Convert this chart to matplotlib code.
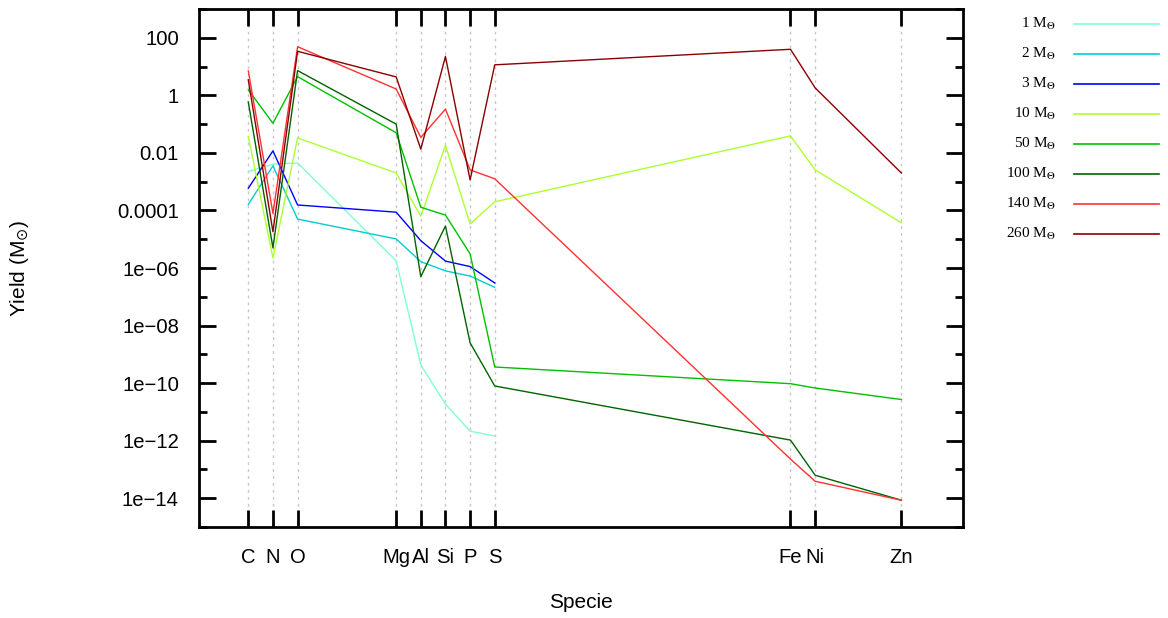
import matplotlib
matplotlib.use("Agg")
import matplotlib.pyplot as plt
from matplotlib.lines import Line2D
from matplotlib.ticker import FixedLocator, FixedFormatter
import numpy as np

# ---- data ----
species = ["C", "N", "O", "Mg", "Al", "Si", "P", "S", "Fe", "Ni", "Zn"]
species_x = [6, 7, 8, 12, 13, 14, 15, 16, 28, 29, 32.5]

masses = ["1", "2", "3", "10", "50", "100", "140", "260"]

# log10 yields (Msun)
log_m1 = [-2.65, -2.39, -2.35, -5.75, -9.37, -10.73, -11.67, -11.84]
log_m2 = [-3.79, -2.45, -4.30, -4.99, -5.78, -6.10, -6.28, -6.67]
log_m3 = [-3.23, -1.93, -3.81, -4.06, -5.05, -5.76, -5.95, -6.52]
log_m10 = [-1.43, -5.65, -1.48, -2.70, -4.20, -1.74, -4.47, -3.70, -1.41, -2.59, -4.43]
log_m50 = [0.19, -0.97, 0.65, -1.30, -3.89, -4.16, -5.51, -9.44, -10.02, -10.17, -10.57]
log_m100 = [-0.23, -5.30, 0.86, -1.00, -6.30, -4.54, -8.60, -10.10, -11.98, -13.20, -14.07]
log_m140 = [0.85, -4.10, 1.69, 0.22, -1.46, -0.48, -2.59, -2.90, -12.64, -13.41, -14.07]
log_m260 = [0.54, -4.74, 1.53, 0.64, -1.87, 1.35, -2.94, 1.06, 1.60, 0.26, -2.70]

series = [log_m1, log_m2, log_m3, log_m10, log_m50, log_m100, log_m140, log_m260]
colors = ["#7fffd4", "#00ced1", "#0000ff", "#adff2f", "#00c000", "#006400", "#ff3030", "#8b0000"]

ytick_vals = [1e2, 1e0, 1e-2, 1e-4, 1e-6, 1e-8, 1e-10, 1e-12, 1e-14]
ytick_labels = ["100", "1", "0.01", "0.0001", "1e\u221206", "1e\u221208", "1e\u221210", "1e\u221212", "1e\u221214"]
yminor_vals = [1e3, 1e1, 1e-1, 1e-3, 1e-5, 1e-7, 1e-9, 1e-11, 1e-13, 1e-15]

# ---- figure ----
W, H = 1168, 618
fig = plt.figure(figsize=(W / 100, H / 100), dpi=100)
ax = fig.add_axes([199 / W, 1 - 527 / H, (963 - 199) / W, (527 - 9) / H])

sans = "Liberation Sans"
serif = "Liberation Serif"

for vals, c in zip(series, colors):
    n = len(vals)
    ax.plot(species_x[:n], 10.0 ** np.array(vals), color=c, lw=1.0, zorder=3)

ax.set_yscale("log")
ax.set_xlim(4, 35)
ax.set_ylim(1e-15, 1e3)

ax.xaxis.set_major_locator(FixedLocator(species_x))
ax.xaxis.set_major_formatter(FixedFormatter(species))
ax.xaxis.set_minor_locator(FixedLocator([]))
ax.yaxis.set_major_locator(FixedLocator(ytick_vals))
ax.yaxis.set_major_formatter(FixedFormatter(ytick_labels))
ax.yaxis.set_minor_locator(FixedLocator(yminor_vals))
ax.yaxis.set_minor_formatter(FixedFormatter([""] * len(yminor_vals)))

ax.tick_params(axis="both", which="major", direction="in", length=12, width=2,
               top=True, right=True, labelsize=14.6)
ax.tick_params(axis="x", which="major", pad=15)
ax.tick_params(axis="y", which="major", pad=14.4)
ax.tick_params(axis="y", which="minor", direction="in", length=6, width=2,
               left=True, right=True)
for lab in ax.get_xticklabels() + ax.get_yticklabels():
    lab.set_fontfamily(sans)

for s in ax.spines.values():
    s.set_linewidth(2)

ax.grid(axis="x", which="major", color="#c8c8c8", linestyle=(0, (2, 3)), lw=1.0, zorder=1)

ax.set_xlabel("Specie", fontsize=15, family=sans, labelpad=19)
ax.set_ylabel("Yield (M$_{\\odot}$)", fontsize=15, family=sans, labelpad=62)

# ---- legend (outside, right) ----
row_y = [24, 54, 84, 114, 144, 174, 204, 234]
for lbl, c, yy in zip(masses, colors, row_y):
    fig.add_artist(Line2D([1074 / W, 1159 / W], [1 - yy / H, 1 - yy / H],
                          color=c, lw=1.2, transform=fig.transFigure))
    fig.text(1056 / W, 1 - (yy + 4) / H, lbl + " M$_{\\Theta}$", ha="right", va="baseline",
             fontsize=11, family=serif, math_fontfamily="stix")

fig.savefig("out.png", dpi=100)
